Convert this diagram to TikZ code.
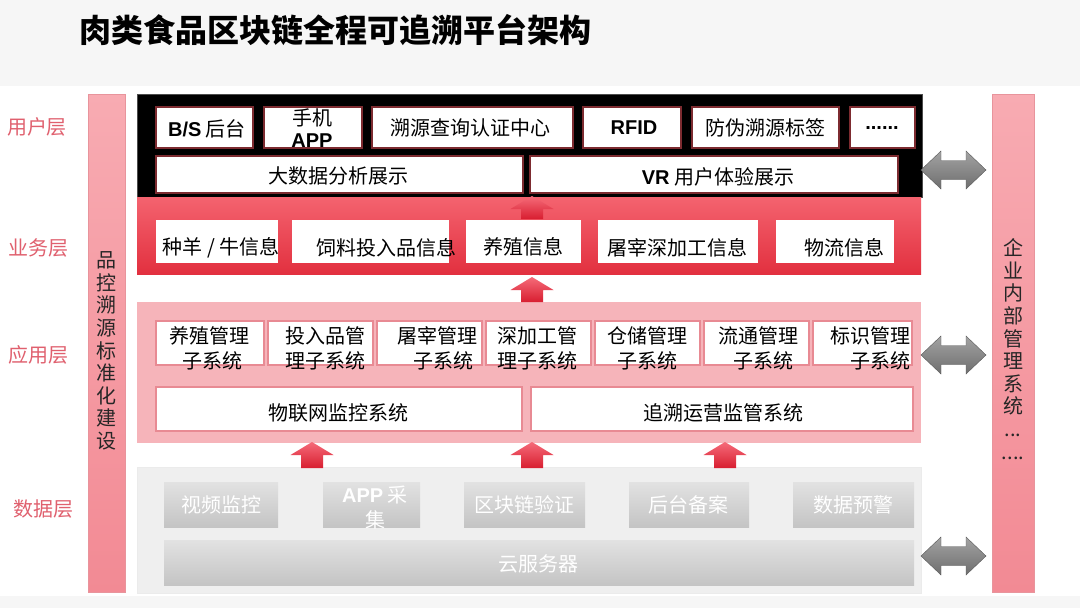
\documentclass[tikz,border=0pt]{standalone}
\usepackage{fontspec}
\setmainfont{Noto Sans CJK SC}
\newfontfamily\latb{Liberation Sans}
\definecolor{pagebg}{HTML}{F6F6F6}
\definecolor{lyr}{HTML}{E0606E}
\definecolor{bartop}{HTML}{F8ABB2}
\definecolor{barbot}{HTML}{F28A94}
\definecolor{barline}{HTML}{E8949C}
\definecolor{bustop}{HTML}{F4636F}
\definecolor{busbot}{HTML}{E2303F}
\definecolor{apppink}{HTML}{F6B4BA}
\definecolor{appline}{HTML}{E88A93}
\definecolor{uline}{HTML}{7D2B30}
\definecolor{datafill}{HTML}{EFEFEF}
\definecolor{dtop}{HTML}{E2E2E2}
\definecolor{dbot}{HTML}{C4C4C4}
\definecolor{artop}{HTML}{F56B79}
\definecolor{arbot}{HTML}{D81E30}
\definecolor{gtop}{HTML}{A3A3A3}
\definecolor{gbot}{HTML}{6E6E6E}
\newcommand\redup[3]{%
  \begin{scope}[shift={(#1,#2)}]
    \shade[top color=artop,bottom color=arbot]
      (0,0) -- (21.5,13) -- (11,13) -- (11,#3) -- (-11,#3) -- (-11,13) -- (-21.5,13) -- cycle;
  \end{scope}}
\newcommand\grayboth[1]{%
  \begin{scope}[shift={(0,#1)}]
    \shade[top color=gtop,bottom color=gbot,draw=gray!70!black,line width=0.4pt]
      (921,0) -- (941,-19) -- (941,-9.5) -- (966,-9.5) -- (966,-19) -- (986,0)
      -- (966,19) -- (966,9.5) -- (941,9.5) -- (941,19) -- cycle;
  \end{scope}}
\tikzset{
  txt/.style={font=\fontsize{20}{24}\selectfont, inner sep=0pt, text=black},
  ubox/.style={draw=uline, line width=1.3pt, fill=white, inner sep=0pt},
  bbox/.style={fill=white, inner sep=0pt},
  abox/.style={draw=appline, line width=1.2pt, fill=white, inner sep=0pt},
  dbox/.style={top color=dtop, bottom color=dbot, inner sep=0pt},
  dtxt/.style={font=\fontsize{20}{24}\selectfont, inner sep=0pt, text=white},
  lyrtxt/.style={font=\fontsize{20}{24}\selectfont, inner sep=0pt, text=lyr},
  sidebar/.style={top color=bartop, bottom color=barbot, draw=barline, line width=0.6pt, inner sep=0pt},
  vtxt/.style={font=\fontsize{20}{22.6}\selectfont, inner sep=0pt, align=center, text=black!85},
}
\begin{document}
\begin{tikzpicture}[x=1pt,y=-1pt]
\useasboundingbox (0,0) rectangle (1080,608);
\fill[pagebg] (0,0) rectangle (1080,608);
\fill[white] (0,86) rectangle (1080,596);

% title
\node[font=\fontsize{32}{36}\selectfont\bfseries, inner sep=0pt, anchor=west] (title) at (79,30) {肉类食品区块链全程可追溯平台架构};

% layer labels
\node[lyrtxt] (l1) at (37,127) {用户层};
\node[lyrtxt] (l2) at (39,248) {业务层};
\node[lyrtxt] (l3) at (39,355) {应用层};
\node[lyrtxt] (l4) at (43,509) {数据层};

% side bars
\node[sidebar, minimum width=37, minimum height=498] (lbar) at (106.5,343) {};
\node[vtxt] (lbartxt) at (106.5,351) {品\\控\\溯\\源\\标\\准\\化\\建\\设};
\node[sidebar, minimum width=42, minimum height=498] (rbar) at (1013,343) {};
\node[vtxt] (rbartxt) at (1013,349) {企\\业\\内\\部\\管\\理\\系\\统\\...\\....};

% user layer
\node[fill=black, draw=black!70, minimum width=785, minimum height=103, inner sep=0pt] (user) at (529.5,145.5) {};
\node[ubox, minimum width=97, minimum height=41] (bs) at (204.5,127.5) {};
\node[ubox, minimum width=98, minimum height=41] (app) at (313,127.5) {};
\node[ubox, minimum width=201, minimum height=41] (query) at (472.5,127.5) {};
\node[ubox, minimum width=98, minimum height=41] (rfid) at (632,127.5) {};
\node[ubox, minimum width=147, minimum height=41] (label) at (765.5,127.5) {};
\node[ubox, minimum width=65, minimum height=41] (more) at (882.5,127.5) {};
\node[ubox, minimum width=367, minimum height=37] (bigdata) at (339.5,174.5) {};
\node[ubox, minimum width=368, minimum height=37] (vr) at (714,174.5) {};
\node[txt] (bst) at (207,129) {{\latb\bfseries B/S} 后台};
\node[txt] (appt1) at (312,118) {手机};
\node[txt, font=\latb\bfseries\fontsize{20}{24}\selectfont] (appt2) at (312,141) {APP};
\node[txt] (queryt) at (470,128) {溯源查询认证中心};
\node[txt, font=\latb\bfseries\fontsize{20}{24}\selectfont] (rfidt) at (634,128) {RFID};
\node[txt] (labelt) at (765,128) {防伪溯源标签};
\node[txt, font=\latb\bfseries\fontsize{20}{24}\selectfont] (moret) at (882,128) {......};
\node[txt] (bigdatat) at (338,176) {大数据分析展示};
\node[txt] (vrt) at (718,177) {{\latb\bfseries VR} 用户体验展示};

% business layer
\node[top color=bustop, bottom color=busbot, minimum width=784, minimum height=77, inner sep=0pt] (biz) at (529,235.5) {};
\node[bbox, minimum width=122, minimum height=43] (b1) at (217,241.5) {};
\node[bbox, minimum width=157, minimum height=43] (b2) at (370.5,241.5) {};
\node[bbox, minimum width=115, minimum height=43] (b3) at (523.5,241.5) {};
\node[bbox, minimum width=160, minimum height=43] (b4) at (678,241.5) {};
\node[bbox, minimum width=118, minimum height=43] (b5) at (835,241.5) {};
\node[txt] (b1t) at (221,248) {种羊 / 牛信息};
\node[txt] (b2t) at (386,248) {饲料投入品信息};
\node[txt] (b3t) at (523,247) {养殖信息};
\node[txt] (b4t) at (677,248) {屠宰深加工信息};
\node[txt] (b5t) at (844,248) {物流信息};

% application layer
\node[fill=apppink, minimum width=784, minimum height=141, inner sep=0pt] (appl) at (529,372.5) {};
\node[abox, minimum width=108, minimum height=44] (a1) at (210,343) {};
\node[abox, minimum width=105, minimum height=44] (a2) at (320.5,343) {};
\node[abox, minimum width=105, minimum height=44] (a3) at (429.5,343) {};
\node[abox, minimum width=105, minimum height=44] (a4) at (538.5,343) {};
\node[abox, minimum width=105, minimum height=44] (a5) at (647.5,343) {};
\node[abox, minimum width=105, minimum height=44] (a6) at (756.5,343) {};
\node[abox, minimum width=99, minimum height=44] (a7) at (862.5,343) {};
\node[txt] (a1t1) at (209,336) {养殖管理};
\node[txt] (a1t2) at (212,361) {子系统};
\node[txt] (a2t1) at (325,336) {投入品管};
\node[txt] (a2t2) at (325,361) {理子系统};
\node[txt] (a3t1) at (437,336) {屠宰管理};
\node[txt] (a3t2) at (443,361) {子系统};
\node[txt] (a4t1) at (537,336) {深加工管};
\node[txt] (a4t2) at (537,361) {理子系统};
\node[txt] (a5t1) at (647,336) {仓储管理};
\node[txt] (a5t2) at (647,361) {子系统};
\node[txt] (a6t1) at (758,336) {流通管理};
\node[txt] (a6t2) at (763,361) {子系统};
\node[txt] (a7t1) at (870,336) {标识管理};
\node[txt] (a7t2) at (880,361) {子系统};
\node[abox, minimum width=366, minimum height=44] (iot) at (339,409) {};
\node[abox, minimum width=382, minimum height=44] (trace) at (722,409) {};
\node[txt] (iott) at (338,413) {物联网监控系统};
\node[txt] (tracet) at (723,413) {追溯运营监管系统};

% data layer
\node[fill=datafill, draw=black!8, minimum width=784, minimum height=126, inner sep=0pt] (data) at (529,530) {};
\node[dbox, minimum width=114, minimum height=45] (d1) at (221,504.5) {};
\node[dbox, minimum width=97, minimum height=45] (d2) at (371.5,504.5) {};
\node[dbox, minimum width=121, minimum height=45] (d3) at (524.5,504.5) {};
\node[dbox, minimum width=120, minimum height=45] (d4) at (689,504.5) {};
\node[dbox, minimum width=121, minimum height=45] (d5) at (853.5,504.5) {};
\node[dbox, minimum width=750, minimum height=45] (cloud) at (539,562.5) {};
\node[dtxt] (d1t) at (221,505) {视频监控};
\node[dtxt] (d2t1) at (375,495) {{\latb\bfseries APP} 采};
\node[dtxt] (d2t2) at (375,520) {集};
\node[dtxt] (d3t) at (524,505) {区块链验证};
\node[dtxt] (d4t) at (688,505) {后台备案};
\node[dtxt] (d5t) at (853,505) {数据预警};
\node[dtxt] (cloudt) at (538,564) {云服务器};

% up arrows
\redup{532}{196}{23}
\redup{532}{277}{25}
\redup{312}{442}{26}
\redup{532}{442}{26}
\redup{725}{442}{26}

% double arrows
\grayboth{170}
\grayboth{355}
\grayboth{556}
\end{tikzpicture}
\end{document}
